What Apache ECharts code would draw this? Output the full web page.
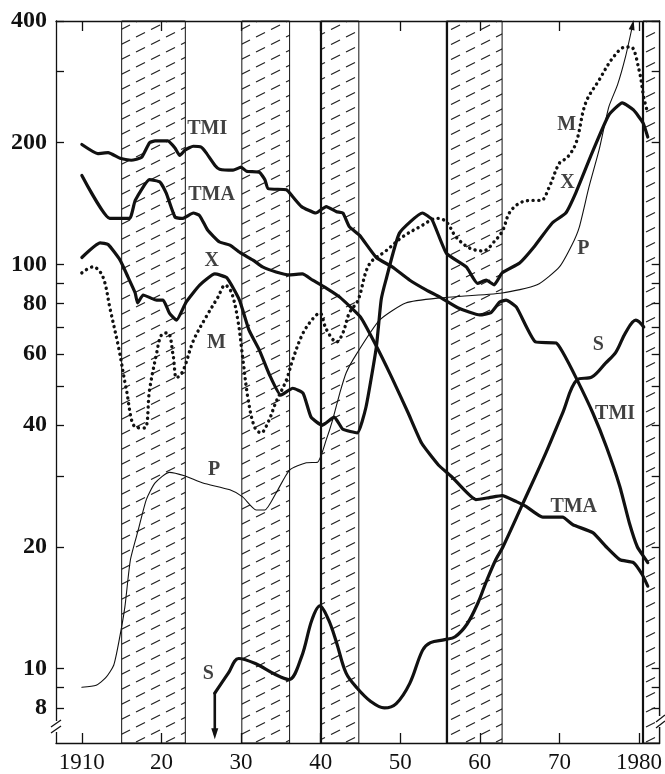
<!DOCTYPE html>
<html>
<head>
<meta charset="utf-8">
<script src="https://cdn.jsdelivr.net/npm/echarts@6/dist/echarts.min.js"></script>
<style>
html, body { margin: 0; padding: 0; background: #fff; }
#chart { width: 665px; height: 774px; }
</style>
</head>
<body>
<div id="chart"></div>
<script>
// axes
var xTicks = [1910, 1920, 1930, 1940, 1950, 1960, 1970, 1980];
var xTickText = ['1910', '20', '30', '40', '50', '60', '70', '1980'];
var yLabelValues = [8, 10, 20, 40, 60, 80, 100, 200, 400];
var yTickValues = [8, 9, 10, 20, 30, 40, 50, 60, 70, 80, 90, 100, 200, 300, 400];

// shaded periods
var bandFrom = [1915, 1930.1, 1940, 1955.8, 1980.5];
var bandTo = [1923, 1936.1, 1944.8, 1962.8, 1982.6];
var heavyEdges = [1940, 1955.8, 1980.5];

// series [year, value]
var tmi = [[1910,198],[1912,188],[1913.3,189],[1914.8,183],[1916.2,181],[1917.5,184],[1918.5,200],[1919.2,202],
  [1920.8,202],[1921.7,194],[1922.3,186],[1923,192],[1924,196],[1925,195],[1925.6,189],[1926.7,176],[1927.3,172],
  [1929,171],[1930,174],[1930.7,170],[1932.3,169],[1933,162],[1933.4,154],[1935.7,153],[1936.5,147],[1937.6,139],
  [1939.4,134],[1940.7,139],[1942,135],[1942.8,134],[1943.6,124],[1944.9,118],[1947,104],[1949,98.6],[1951.2,91.4],
  [1953.3,86.4],[1955,83],[1957.3,78],[1960,75],[1961.4,76],[1962.5,80.7],[1963.3,81.6],[1964.6,78.4],[1967,64.3],
  [1969.6,63.9],[1970.4,60.7],[1972.1,52.4],[1974.2,42.9],[1975.9,35.4],[1977.6,28.2],[1978.8,22.9],[1979.8,20],
  [1980.7,18.8],[1981.1,18.3]];
var tma = [[1910,166],[1913.5,130],[1916,130],[1916.7,144],[1918.5,162],[1919.8,160],[1920.6,150],[1921.7,131],
  [1922.7,130],[1924,134],[1924.8,132],[1925.8,121.6],[1927.3,113.6],[1928.6,111.6],[1930,106.6],[1931.5,102.5],
  [1932.7,98.6],[1934.4,95.8],[1936.1,94.2],[1937.7,94.7],[1939,91.4],[1940.7,87.4],[1942.4,83],[1945,74.1],
  [1946.8,63.9],[1948.9,52.7],[1951,42.9],[1952.7,36.1],[1954.8,31.9],[1956.5,29.8],[1959.5,26.2],[1961.2,26.5],
  [1962.8,26.8],[1964.6,25.9],[1965.8,25.2],[1967.9,23.7],[1970.4,23.7],[1971.7,22.7],[1974.2,21.7],[1975.9,20],
  [1977.6,18.6],[1979.3,18.3],[1980.4,17.1],[1981.1,16]];
var xSeries = [[1910,104],[1912.3,113],[1913.3,112],[1914.8,102.5],[1915.8,93],[1916.7,85],[1917,80.3],[1917.7,84],
  [1919.4,81.6],[1920.2,81.6],[1921,75.8],[1921.9,72.8],[1923.1,80.7],[1924.8,88.9],[1926.7,94.7],[1928.2,92.7],
  [1929.8,81.6],[1931,68.8],[1932.3,61.4],[1933.6,53.2],[1935,47.5],[1936.5,49.4],[1937.8,48],[1938.8,41.9],
  [1940.2,40],[1941.7,41.9],[1942.8,39.1],[1944.6,38.3],[1945.7,44.4],[1947,62.5],[1947.6,81.6],[1948.2,91.4],
  [1949.9,119.5],[1952.8,134],[1954,129],[1955.8,106.6],[1958.3,98.6],[1959.7,89.8],[1960.8,91.4],[1961.8,89],
  [1962.8,95.3],[1965,100.8],[1966.8,110.4],[1969.1,126.6],[1970.8,134],[1972.1,151],[1974.1,188.7],[1976.2,234],
  [1977.9,251],[1979.3,241],[1980.5,224],[1981.1,206.6]];
var mSeries = [[1910,95.3],[1911.4,98.6],[1912.3,95.8],[1912.9,89.9],[1913.5,78.4],[1914.6,62.5],[1915.6,48.9],
  [1916.7,39.6],[1917.9,39.4],[1918.5,48.9],[1919.4,60.4],[1920,66.9],[1920.8,67.7],[1921.5,59],[1921.9,52.4],
  [1922.7,54.5],[1924,64.7],[1925.6,74.1],[1927.1,83],[1928,88.9],[1928.8,85.2],[1929.6,72.8],[1930.2,59],
  [1930.9,46.2],[1931.7,39.6],[1932.5,38.3],[1933.4,40.7],[1934.4,45.7],[1935.7,51.8],[1936.5,58.2],[1937.8,67.7],
  [1939.2,74.1],[1939.9,75.8],[1940.7,69.2],[1942,64.3],[1942.8,67.7],[1943.6,75.8],[1944.7,81.6],[1946.1,100],
  [1948.2,108],[1950.3,117],[1952.4,123.7],[1954.7,130],[1955.8,127.4],[1957,117],[1958.7,109.8],[1960.4,108],
  [1962,115],[1962.9,121.6],[1963.7,134],[1965,141.8],[1966.6,144],[1967.7,144],[1968.7,155],[1970,178],[1971,184],
  [1972.1,200],[1973.3,251],[1975,286],[1976.7,324],[1978.3,345],[1979,345],[1980,303],[1980.6,259],[1981,241]];
var pSeries = [[1910,9.0],[1911.8,9.1],[1913,9.5],[1914,10.2],[1914.7,11.8],[1915.4,14.2],[1916.1,18.6],[1917.1,22.1],
  [1918.1,26.2],[1919.2,28.8],[1921,30.6],[1922.9,30],[1925.2,28.8],[1928.6,27.7],[1930.2,26.6],[1931.9,24.7],
  [1933,24.7],[1934.4,27.2],[1936.1,31],[1938.2,32.3],[1939.6,32.4],[1940.7,36.8],[1941.5,41.2],[1942.4,48],
  [1943.2,53.9],[1944.5,60],[1947.4,72.8],[1950.7,80.3],[1954.9,82.6],[1962.8,85],[1967.2,89],[1970,98.6],
  [1971.6,112],[1972.5,123.7],[1973.7,155],[1975,192.5],[1976.2,245],[1977.3,278],[1978.3,326],[1979.2,391]];
var sSeries = [[1926.7,8.7],[1928.4,9.75],[1929.7,10.6],[1931.8,10.3],[1934.2,9.7],[1936,9.4],[1937.6,10.7],
  [1938.9,13.2],[1939.9,14.3],[1941,13.2],[1942,11.6],[1943.2,9.75],[1944.6,8.95],[1946.3,8.3],[1948,8],[1949.5,8.2],
  [1951.2,9.2],[1952.8,11.1],[1953.8,11.6],[1955.6,11.8],[1956.9,12],[1958.4,12.9],[1959.8,14.6],[1960.8,16.4],
  [1962,18.6],[1962.9,20],[1965.4,25.6],[1968.3,34.2],[1970.4,42.9],[1972.2,51.8],[1974.1,52.7],[1975.8,57],
  [1977.1,60.7],[1978.3,67.7],[1979.6,72.8],[1980.6,70]];
var sArrow = [[1926.7,8.7],[1926.7,6.9]];

// curve names written on the chart
var noteText = ['TMI', 'TMA', 'X', 'M', 'P', 'S', 'M', 'X', 'P', 'S', 'TMI', 'TMA'];
var noteYear = [1925.75, 1926.3, 1926.3, 1926.9, 1926.6, 1925.9, 1970.9, 1971, 1973, 1974.9, 1977, 1971.8];
var noteValue = [216, 148.5, 101.9, 64.1, 31, 9.7, 221, 158.8, 109.4, 63.2, 42.8, 25.1];

var ink = '#111';
var serif = 'Liberation Serif';

function hatchTile() {
    var c = document.createElement('canvas');
    c.width = 30;
    c.height = 15;
    var g = c.getContext('2d');
    g.strokeStyle = '#222';
    g.lineWidth = 1.2;
    g.beginPath();
    g.moveTo(1, 14.5); g.lineTo(10, 10);
    g.moveTo(16, 7); g.lineTo(25, 2.5);
    g.stroke();
    return c;
}

function curve(data, width, smooth, extra) {
    var s = {
        type: 'line', data: data, symbol: 'none', smooth: smooth, silent: true, z: 4,
        lineStyle: { color: ink, width: width, cap: 'round', join: 'round' }
    };
    for (var k in extra) s[k] = extra[k];
    return s;
}

var chart = echarts.init(document.getElementById('chart'));

var axisLine = { show: true, lineStyle: { color: ink, width: 1.3 } };

var pData = pSeries.slice(0, -1);
pData.push({ value: pSeries[pSeries.length - 1], symbol: 'triangle', symbolSize: [6, 10], symbolRotate: -12 });
var arrowData = [sArrow[0], { value: sArrow[1], symbol: 'triangle', symbolSize: [7, 11], symbolRotate: 180 }];

chart.setOption({
    animation: false,
    backgroundColor: '#fff',
    grid: { left: 56, right: 3, top: 21, bottom: 31 },
    xAxis: [{
        type: 'value', min: 1906.75, max: 1982.6, position: 'bottom',
        axisLine: axisLine, splitLine: { show: false },
        axisTick: { inside: true, length: 10, customValues: xTicks, lineStyle: { color: ink, width: 1.3 } },
        axisLabel: {
            customValues: xTicks, margin: 8, color: ink, fontFamily: serif, fontSize: 23,
            formatter: function (v) { return xTickText[xTicks.indexOf(v)]; }
        }
    }, {
        type: 'value', min: 1906.75, max: 1982.6, position: 'top',
        axisLine: axisLine, splitLine: { show: false }, axisLabel: { show: false },
        axisTick: { inside: true, length: 10, customValues: xTicks, lineStyle: { color: ink, width: 1.3 } }
    }],
    yAxis: [{
        type: 'log', min: 6.55, max: 400, position: 'left',
        axisLine: axisLine, splitLine: { show: false }, minorTick: { show: false },
        axisTick: { inside: true, length: 8, customValues: yTickValues, lineStyle: { color: ink, width: 1.3 } },
        axisLabel: {
            customValues: yLabelValues, margin: 9, color: ink, fontFamily: serif,
            fontWeight: 'bold', fontSize: 24
        }
    }, {
        type: 'log', min: 6.55, max: 400, position: 'right',
        axisLine: axisLine, splitLine: { show: false }, axisLabel: { show: false },
        axisTick: { inside: true, length: 8, customValues: yTickValues, lineStyle: { color: ink, width: 1.3 } }
    }],
    graphic: [
        { type: 'rect', shape: { x: 50, y: 721, width: 12, height: 11 }, style: { fill: '#fff' }, z: 100 },
        { type: 'line', shape: { x1: 51, y1: 727, x2: 61, y2: 720 }, style: { stroke: ink, lineWidth: 1.3 }, z: 101 },
        { type: 'line', shape: { x1: 51, y1: 733, x2: 61, y2: 726 }, style: { stroke: ink, lineWidth: 1.3 }, z: 101 },
        { type: 'rect', shape: { x: 656, y: 716, width: 9, height: 11 }, style: { fill: '#fff' }, z: 100 },
        { type: 'line', shape: { x1: 656, y1: 722, x2: 665, y2: 715 }, style: { stroke: ink, lineWidth: 1.3 }, z: 101 },
        { type: 'line', shape: { x1: 656, y1: 728, x2: 665, y2: 721 }, style: { stroke: ink, lineWidth: 1.3 }, z: 101 }
    ],
    series: [
        {
            type: 'line', data: [], silent: true, z: 1,
            markArea: {
                silent: true,
                itemStyle: { color: { image: hatchTile(), repeat: 'repeat' }, borderColor: ink, borderWidth: 1 },
                data: bandFrom.map(function (f, i) { return [{ xAxis: f }, { xAxis: bandTo[i] }]; })
            },
            markLine: {
                silent: true, symbol: ['none', 'none'], label: { show: false },
                lineStyle: { color: ink, width: 2.2, type: 'solid' },
                data: heavyEdges.map(function (x) { return { xAxis: x }; })
            }
        },
        curve(tmi, 3.2, 0.15),
        curve(tma, 3.2, 0.15),
        curve(xSeries, 3.2, 0.15),
        curve(mSeries, 3.2, 0.35, { lineStyle: { color: ink, width: 3.4, type: [0.1, 5.5], cap: 'round' } }),
        curve(pData, 1.1, 0.2, { showSymbol: true, itemStyle: { color: ink } }),
        curve(sSeries, 3.2, 0.35),
        curve(arrowData, 2.6, false, { showSymbol: true, itemStyle: { color: ink } }),
        {
            type: 'scatter', silent: true, z: 10, symbolSize: 1, itemStyle: { color: 'rgba(0,0,0,0)' },
            data: noteText.map(function (t, i) { return { name: t, value: [noteYear[i], noteValue[i]] }; }),
            label: {
                show: true, position: 'inside', formatter: '{b}', color: ink,
                fontFamily: serif, fontWeight: 'bold', fontSize: 20
            }
        }
    ]
});
</script>
</body>
</html>
